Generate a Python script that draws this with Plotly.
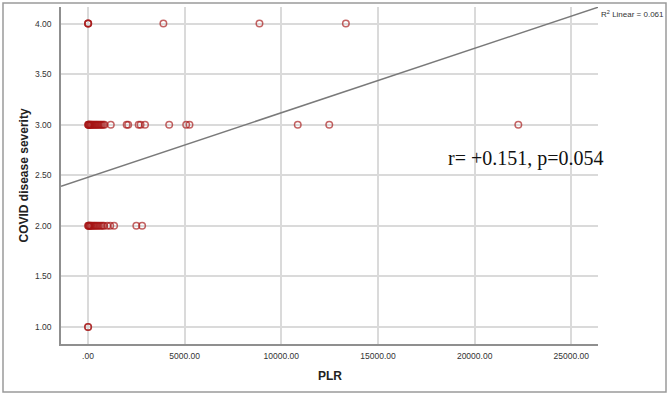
import plotly.graph_objects as go

# ---- data ----
plr_sev4 = [0, 5, 15, 3900, 8870, 13340]
plr_sev3 = [5, 20, 40, 60, 90, 120, 150, 190, 230, 280, 330, 380, 430, 480, 540, 600,
            660, 720, 790, 850, 1180, 2000, 2080, 2620, 2720, 2950, 4200, 5080, 5250,
            10850, 12480, 22260]
plr_sev2 = [5, 25, 50, 80, 110, 150, 200, 260, 320, 380, 450, 520, 600, 680, 760,
            830, 1000, 1150, 1350, 2500, 2800]
plr_sev1 = [0, 10]

severity_levels = [4, 3, 2, 1]

fit_intercept = 2.481
fit_slope = 6.37e-5
r2_text = "R<sup>2</sup> Linear = 0.061"
corr_text = "r= +0.151, p=0.054"

x_tickvals = [0, 5000, 10000, 15000, 20000, 25000]
x_ticktext = [".00", "5000.00", "10000.00", "15000.00", "20000.00", "25000.00"]
y_tickvals = [1.0, 1.5, 2.0, 2.5, 3.0, 3.5, 4.0]
y_ticktext = ["1.00", "1.50", "2.00", "2.50", "3.00", "3.50", "4.00"]

x_title = "PLR"
y_title = "COVID disease severity"

# ---- layout constants ----
W, H = 672, 398
ML, MR, MT, MB = 61, 74, 7, 54
XR = [-1396, 26382]
YR = [0.832, 4.164]

xs, ys = [], []
for lvl, vals in zip(severity_levels, [plr_sev4, plr_sev3, plr_sev2, plr_sev1]):
    xs += vals
    ys += [lvl] * len(vals)

fig = go.Figure()
fig.add_trace(go.Scatter(
    x=xs, y=ys, mode="markers",
    marker=dict(symbol="circle-open", size=6.5, color="rgba(165,20,20,0.66)",
                line=dict(width=1.5)),
    hoverinfo="skip", showlegend=False))

fit_x = XR
fit_y = [fit_intercept + fit_slope * v for v in fit_x]
fig.add_trace(go.Scatter(
    x=fit_x, y=fit_y, mode="lines",
    line=dict(color="#7a7a7a", width=1.5),
    hoverinfo="skip", showlegend=False))

pw = W - ML - MR
ph = H - MT - MB


def px_to_paper_x(px):
    return (px - ML) / pw


def px_to_paper_y(py):
    return (H - MB - py) / ph


fig.update_layout(
    width=W, height=H,
    margin=dict(l=ML, r=MR, t=MT, b=MB),
    paper_bgcolor="white", plot_bgcolor="white",
    font=dict(family="Liberation Sans, Arial", size=8, color="#333333"),
    xaxis=dict(range=XR, tickvals=x_tickvals, ticktext=x_ticktext,
               showgrid=True, gridcolor="#dadada", gridwidth=1.5,
               zeroline=True, zerolinecolor="#dadada", zerolinewidth=1.5,
               showline=True, linecolor="#8f8f8f", linewidth=1.5,
               ticks="outside", ticklen=3, tickcolor="rgba(0,0,0,0)",
               tickfont=dict(size=8.5, color="#333333")),
    yaxis=dict(range=YR, tickvals=y_tickvals, ticktext=y_ticktext,
               showgrid=True, gridcolor="#dadada", gridwidth=1.5,
               zeroline=False,
               showline=True, linecolor="#8f8f8f", linewidth=1.5,
               ticks="outside", ticklen=6, tickcolor="rgba(0,0,0,0)",
               tickfont=dict(size=8.5, color="#333333")),
    shapes=[dict(type="rect", xref="paper", yref="paper",
                 x0=px_to_paper_x(3), x1=px_to_paper_x(666),
                 y0=px_to_paper_y(392), y1=px_to_paper_y(3),
                 line=dict(color="#9a9a9a", width=1.5), layer="above")],
    annotations=[
        dict(text="<b>" + x_title + "</b>", xref="paper", yref="paper",
             x=0.5, y=px_to_paper_y(376), xanchor="center", yanchor="middle",
             showarrow=False, font=dict(size=12, color="#222222",
                                        family="Liberation Sans, Arial")),
        dict(text="<b>" + y_title + "</b>", xref="paper", yref="paper",
             x=px_to_paper_x(23), y=0.5, xanchor="center", yanchor="middle",
             textangle=-90, showarrow=False,
             font=dict(size=12, color="#222222", family="Liberation Sans, Arial")),
        dict(text=r2_text, xref="paper", yref="paper",
             x=px_to_paper_x(599), y=px_to_paper_y(14), xanchor="left",
             yanchor="middle", showarrow=False,
             font=dict(size=8, color="#333333", family="Liberation Sans, Arial")),
        dict(text=corr_text, xref="paper", yref="paper",
             x=px_to_paper_x(526), y=px_to_paper_y(158), xanchor="center",
             yanchor="middle", showarrow=False,
             font=dict(size=20, color="#111111", family="Liberation Serif, Times New Roman")),
    ],
)

fig.write_html("out.html")
